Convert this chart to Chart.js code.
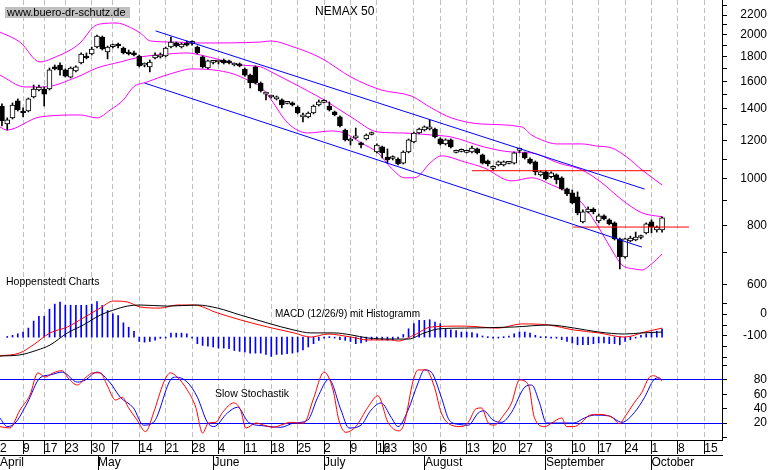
<!DOCTYPE html>
<html>
<head>
<meta charset="utf-8">
<script src="https://cdn.jsdelivr.net/npm/chart.js@4.4.1/dist/chart.umd.min.js"></script>
<style>
  html, body { margin: 0; padding: 0; background: #fff; }
</style>
</head>
<body>
<canvas id="chart" width="770" height="470"></canvas>
<script>
// texts
const TITLE = 'NEMAX 50';
const SITE = 'www.buero-dr-schutz.de';
const SOURCE = 'Hoppenstedt Charts';
const MACD_LABEL = 'MACD (12/26/9) mit Histogramm';
const STOCH_LABEL = 'Slow Stochastik';

// x = trading day slot (0 = 2 April)
const X_MIN = 0.63;
const X_MAX = 137.35;
const WEEK_TICKS = [[0.63,'2'],[5,'9'],[9,'17'],[13,'23'],[18,'30'],[22,'7'],[27,'14'],[32,'21'],[37,'28'],
  [42,'4'],[47,'11'],[52,'18'],[57,'25'],[62,'2'],[67,'9'],[72,'16'],[73.3,'23'],[79,'30'],[84,'6'],
  [89,'13'],[94,'20'],[99,'27'],[104,'3'],[109,'10'],[114,'17'],[119,'24'],[124,'1'],[129,'8'],[134,'15']];
const MONTH_TICKS = [[0.63,'April'],[19.2,'May'],[41.05,'June'],[62,'July'],[81.1,'August'],[104,'September'],[124,'October']];

// daily candles, first one on slot 1
const FIRST_DAY = 1;
const OPEN = [
  1420,1302,1341,1455,1386,1386,1483,1534,1541,1541,
  1714,1730,1689,1632,1681,1747,1798,1824,1886,1979,
  1841,1890,1904,1877,1841,1833,1806,1728,1714,1789,
  1798,1806,1886,1923,1886,1923,1920,1886,1798,1705,
  1752,1755,1772,1764,1730,1738,1697,1648,1714,1586,
  1504,1483,1469,1462,1438,1441,1413,1347,1347,1373,
  1427,1445,1420,1380,1347,1265,1200,1218,1189,1212,
  1238,1138,1166,1111,1103,1100,1079,1138,1194,1247,
  1265,1271,1271,1212,1183,1206,1136,1141,1136,1138,
  1155,1122,1090,1052,1069,1069,1077,1079,1147,1133,
  1100,1085,1019,1034,1010,1019,1005,953,935,917,
  813,853,865,817,837,821,809,749,687,742,
  745,754,771,813,782,782];
const HIGH = [
  1434,1341,1441,1469,1407,1476,1571,1571,1556,1705,
  1730,1747,1697,1714,1722,1833,1833,1886,1998,1989,
  1895,1913,1923,1886,1859,1850,1815,1747,1772,1833,
  1833,1886,1979,1932,1923,1942,1942,1895,1806,1772,
  1764,1764,1781,1772,1747,1747,1705,1656,1722,1594,
  1519,1497,1490,1469,1448,1448,1420,1373,1380,1427,
  1462,1462,1448,1386,1354,1271,1218,1277,1194,1241,
  1253,1183,1171,1155,1117,1106,1144,1212,1253,1277,
  1290,1328,1277,1218,1212,1212,1149,1155,1149,1171,
  1160,1127,1095,1064,1090,1090,1085,1138,1160,1138,
  1106,1090,1039,1039,1034,1024,1010,957,948,939,
  861,874,870,845,841,825,813,752,752,759,
  774,763,809,821,797,833];
const LOW = [
  1290,1265,1334,1386,1347,1380,1476,1527,1420,1534,
  1689,1648,1632,1625,1673,1738,1781,1815,1877,1859,
  1781,1877,1877,1824,1815,1806,1714,1714,1673,1781,
  1789,1798,1877,1886,1877,1895,1904,1824,1705,1697,
  1738,1738,1738,1738,1722,1714,1640,1549,1579,1519,
  1462,1476,1462,1407,1434,1420,1367,1315,1341,1367,
  1420,1441,1386,1354,1284,1200,1177,1212,1160,1206,
  1235,1133,1106,1079,1095,1069,1074,1133,1189,1241,
  1259,1265,1218,1177,1177,1160,1133,1138,1133,1133,
  1127,1074,1064,1044,1064,1064,1074,1074,1133,1100,
  1074,1019,1014,995,1005,976,948,922,887,841,
  809,849,845,809,821,801,745,648,683,738,
  742,749,767,771,774,774];
const CLOSE = [
  1322,1328,1427,1393,1373,1469,1541,1556,1504,1689,
  1697,1689,1640,1705,1714,1824,1789,1868,1989,1868,
  1886,1895,1895,1833,1824,1815,1722,1730,1755,1815,
  1815,1877,1932,1895,1913,1904,1923,1833,1714,1764,
  1755,1758,1747,1747,1733,1722,1648,1586,1586,1527,
  1508,1486,1483,1427,1441,1427,1373,1350,1373,1420,
  1448,1448,1393,1360,1290,1206,1203,1221,1177,1235,
  1241,1177,1133,1095,1106,1074,1138,1206,1247,1271,
  1284,1284,1223,1183,1206,1166,1138,1144,1138,1160,
  1133,1079,1074,1054,1085,1085,1079,1133,1149,1106,
  1079,1034,1034,1000,1029,995,953,930,891,849,
  853,865,853,837,825,805,749,687,749,752,
  756,756,805,793,793,829];

// Bollinger bands: [slot, value]
const BB_UPPER = [[0.6,2027],[4.4,1932],[8.2,1755],[10.7,1789],[15.8,1923],[18.3,2077],[19.6,2107],[22.8,2117],
  [24.7,2087],[27.2,2017],[29.1,1942],[33.5,1932],[38.6,1923],[50,1932],[52,1942],[55.7,1895],[61.4,1789],
  [67.1,1632],[72.8,1534],[78.5,1490],[82.3,1407],[86.1,1341],[91.8,1302],[99.4,1284],[101.3,1235],
  [103.2,1206],[106,1183],[110.8,1183],[113.6,1171],[116.5,1160],[119.3,1111],[122.2,1044],[126,971]];
const BB_MID = [[0.6,1648],[5.4,1556],[8.8,1556],[15.2,1632],[19,1705],[23.4,1755],[27.2,1798],[30.4,1815],
  [36.1,1833],[38.6,1815],[42.4,1772],[46.2,1730],[50,1714],[52,1673],[55.7,1594],[62,1462],[67.1,1347],
  [72.2,1253],[77.2,1247],[82.3,1235],[86.1,1223],[92.3,1166],[97.5,1138],[101.3,1133],[106.4,1079],
  [110.8,1044],[114.6,981],[118.4,904],[122.2,849],[126,833]];
const BB_LOWER = [[0.6,1284],[1.9,1265],[8.2,1347],[15.8,1360],[19,1341],[21.5,1393],[24,1462],[25.9,1556],
  [28.5,1594],[31,1632],[34.8,1681],[36.7,1697],[41.1,1689],[44.9,1656],[47.5,1609],[50,1556],[52,1462],
  [55.1,1309],[58.9,1247],[63.3,1259],[65.8,1247],[69,1189],[72.2,1133],[74.7,1054],[77.2,1005],[79.1,1005],
  [82.3,1085],[84.2,1117],[88.6,1085],[92.3,1054],[97.5,990],[101.3,1005],[105.1,971],[108.3,935],
  [110.8,891],[112.7,833],[114.6,771],[116.5,710],[118.4,661],[120.8,648],[122.2,645],[124,664],[126,696]];

// trend channel and horizontal marks
const TREND_UPPER = [[30.1,2038],[122.7,952]];
const TREND_LOWER = [[28,1586],[122.2,720]];
const LEVEL_1040 = [[90,1040],[123.9,1040]];
const LEVEL_793 = [[109.2,793],[131.1,793]];

// MACD panel
const MACD_LINE = [[0.6,-191],[4.4,-186],[7.7,-164],[10.1,-141],[13.4,-86],[16.4,-50],[19.6,-5],[22.1,18],
  [24.7,36],[27.2,41],[32.3,36],[38,41],[41.8,27],[46.2,-5],[51.3,-41],[56.3,-73],[59.5,-86],[63.9,-86],
  [67.1,-95],[70.3,-109],[74.7,-114],[77.9,-114],[81,-86],[83.6,-68],[88.6,-64],[98,-59],[104.5,-50],
  [109.4,-64],[114,-82],[118.9,-91],[122.2,-86],[126,-82]];
const MACD_SIGNAL = [[0.6,-191],[4.4,-177],[6.9,-141],[10.1,-86],[13.4,-59],[16.4,-18],[19.6,27],[22.1,59],
  [24.7,55],[27.2,32],[31,27],[34.2,41],[37.3,41],[41.8,5],[46.2,-27],[51.3,-59],[56.3,-86],[59.5,-105],
  [62.7,-91],[67.1,-105],[70.3,-118],[74.7,-118],[76,-123],[79.1,-95],[82.3,-59],[88.6,-55],[95,-64],
  [99.4,-45],[104.5,-50],[109.4,-73],[114,-86],[118.9,-105],[122.7,-82],[126,-64]];
const HIST_ZERO = -105;
const HIST_FIRST = 2;
const HIST = [
  3,8,15,23,41,73,95,95,
  127,150,159,145,145,144,145,145,150,162,
  144,121,106,98,65,45,26,-20,-23,-20,
  -14,-6,0,18,18,18,15,0,-30,-38,
  -41,-45,-50,-50,-53,-61,-65,-68,-73,-73,
  -73,-79,-88,-79,-79,-76,-73,-68,-58,-45,
  -30,-15,0,2,0,-12,-15,-20,-30,-27,
  -20,-12,-10,-12,-14,-12,-6,12,38,61,
  76,76,79,68,61,38,33,30,23,23,
  20,15,5,2,0,0,2,5,15,23,
  23,18,8,2,2,0,-5,-12,-20,-27,
  -35,-35,-35,-30,-27,-27,-30,-30,-35,-20,
  -12,-3,8,15,23,27,38];

// Slow stochastic
const STOCH_K = [[0.6,15],[2.5,13],[4.4,38],[6.3,59],[7.8,90],[9.2,84],[10.7,90],[12.4,93],[13.5,83],[15.3,73],
  [16.8,83],[18.3,90],[19.6,90],[20.9,73],[22.5,52],[23.8,56],[24.9,42],[26.6,24],[28.2,8],[29.7,34],
  [31.6,76],[32.9,90],[34.2,84],[36.1,66],[37.7,42],[39,6],[40.1,20],[41.5,21],[42.8,35],[44.9,48],
  [46.2,38],[47.2,13],[49.1,20],[50.6,17],[52.3,14],[53.8,17],[55.7,21],[57,20],[58.2,20],[59.9,52],
  [62,91],[63.7,66],[64.8,24],[66.1,7],[68,15],[70.3,42],[72.2,58],[74.1,21],[76.2,9],[77.2,20],
  [78.9,80],[79.8,94],[81.3,94],[82.9,70],[84.2,34],[86.1,17],[88,15],[89.3,21],[90.8,40],[91.8,41],
  [93.1,20],[94.2,17],[96,31],[97.5,48],[99,80],[100.7,73],[101.8,28],[103.8,15],[105.1,20],[107,27],
  [107.9,15],[109.3,15],[110.8,21],[112.3,31],[114,32],[116.5,28],[118,19],[118.9,28],[120.8,49],
  [122.2,63],[123.5,83],[124.4,86],[126,79]];
const STOCH_D = [[0.6,27],[2,15],[3.5,20],[5.8,48],[8.2,83],[10.1,87],[12.4,91],[15.3,77],[16.8,80],[19,91],
  [21.5,76],[23.4,56],[25.9,41],[27.8,17],[29.7,21],[32.9,80],[33.9,84],[36.1,77],[38,56],[39.9,21],
  [41.1,15],[43.7,34],[45.6,42],[47.7,21],[50.6,16],[53.8,14],[56.3,20],[58.9,24],[60.8,56],[62.9,81],
  [65.2,38],[66.7,13],[69,17],[70.9,38],[72.8,48],[74.7,28],[76,15],[77.9,38],[79.8,76],[81,94],
  [82.3,91],[84.2,56],[85.7,24],[87.6,18],[89.3,17],[91.2,34],[92.2,37],[94,24],[95.6,21],[97.5,35],
  [100,70],[101.3,73],[102.8,48],[104.1,20],[106.4,20],[109.3,20],[111.3,27],[113.2,31],[115.9,30],
  [118.4,21],[120.8,35],[122.7,56],[124.4,80],[125.4,83],[126,80]];

// axis ticks
const PRICE_TICKS = [600,700,800,900,1000,1100,1200,1300,1400,1500,1600,1700,1800,1900,2000,2100,2200,2300];
const PRICE_LABELS = [600,800,1000,1200,1400,1600,1800,2000,2200];
const MACD_TICKS = [50,0,-50,-100,-150,-200];
const MACD_LABELS = [0,-100];
const STOCH_TICKS = [0,20,40,60,80,100];
const STOCH_LABELS = [20,40,60,80];
const STOCH_LINES = [20,80];

const FONT = '"Liberation Sans", Arial, sans-serif';
const GRID_GRAY = '#c0c0c0';
const AXIS_W = 45;
const TICK_LEN = 5;

Chart.defaults.font.family = FONT;
Chart.defaults.font.size = 12;
Chart.defaults.color = '#000';

const pts = arr => arr.map(p => ({ x: p[0], y: p[1] }));

// padding so that right axis labels end at the canvas edge
function farPad(labels) {
  const m = document.createElement('canvas').getContext('2d');
  m.font = '12px ' + FONT;
  const w = Math.max(...labels.map(t => m.measureText(String(t)).width));
  return AXIS_W - TICK_LEN - w;
}

const candleX = OPEN.map((_, k) => k + FIRST_DAY);
const wickData = candleX.map((x, k) => ({ x, y: [LOW[k], HIGH[k]] }));
const bodyData = candleX.map((x, k) => ({ x, y: [Math.min(OPEN[k], CLOSE[k]), Math.max(OPEN[k], CLOSE[k])] }));
const bodyFill = candleX.map((x, k) => CLOSE[k] >= OPEN[k] ? '#ffffff' : '#000000');
const histData = HIST.map((h, k) => ({ x: k + HIST_FIRST, y: [HIST_ZERO, HIST_ZERO + h] }));

const line = (data, color, axis, width, order, smooth) => ({
  type: 'line', data: pts(data), yAxisID: axis, borderColor: color, borderWidth: width,
  pointRadius: 0, fill: false, order: order,
  cubicInterpolationMode: smooth ? 'monotone' : 'default', tension: 0
});

const rightAxis = (extra) => Object.assign({
  position: 'right', stack: 'panels', bounds: 'data',
  border: { color: '#000', width: 1 },
  grid: { drawOnChartArea: false, tickLength: TICK_LEN, tickColor: '#000' },
  afterFit: s => { s.width = AXIS_W; s.paddingTop = 0; s.paddingBottom = 0; }
}, extra);

const textPlugin = {
  id: 'texts',
  afterDraw(chart) {
    const ctx = chart.ctx;
    ctx.save();
    ctx.fillStyle = '#c0c0c0';
    ctx.fillRect(5, 7, 125, 11);
    ctx.fillStyle = '#000';
    ctx.textBaseline = 'middle';
    ctx.textAlign = 'left';
    ctx.font = '11px ' + FONT;
    ctx.fillText(SITE, 7, 12.5);
    ctx.font = '12px ' + FONT;
    ctx.fillText(TITLE, 315, 11.5);
    ctx.font = '10.5px ' + FONT;
    ctx.fillText(SOURCE, 6, 282.5);
    ctx.fillText(STOCH_LABEL, 215, 394.5);
    ctx.font = '10px ' + FONT;
    ctx.fillText(MACD_LABEL, 275, 314.5);
    ctx.restore();
  }
};

new Chart(document.getElementById('chart'), {
  type: 'bar',
  data: {
    datasets: [
      line(TREND_UPPER, '#0000ff', 'y', 1, 0, false),
      line(TREND_LOWER, '#0000ff', 'y', 1, 0, false),
      line(LEVEL_1040, '#ff0000', 'y', 1, 0, false),
      line(LEVEL_793, '#ff0000', 'y', 1, 0, false),
      {
        type: 'bar', data: bodyData, yAxisID: 'y', order: 1, grouped: false,
        backgroundColor: bodyFill, borderColor: '#000', borderWidth: 1, borderSkipped: false,
        barThickness: 5, minBarLength: 2
      },
      {
        type: 'bar', data: wickData, yAxisID: 'y', order: 2, grouped: false,
        backgroundColor: '#000', borderWidth: 0, barThickness: 1
      },
      line(BB_UPPER, '#ff00ff', 'y', 1, 3, true),
      line(BB_MID, '#ff00ff', 'y', 1, 3, true),
      line(BB_LOWER, '#ff00ff', 'y', 1, 3, true),

      line(MACD_LINE, '#000000', 'yMacd', 1, 0, true),
      line(MACD_SIGNAL, '#ff0000', 'yMacd', 1, 0, true),
      {
        type: 'bar', data: histData, yAxisID: 'yMacd', order: 1, grouped: false,
        backgroundColor: '#0000ff', borderWidth: 0, barThickness: 1, minBarLength: 1
      },

      line(STOCH_K, '#ff0000', 'yStoch', 1, 0, true),
      line(STOCH_D, '#0000ff', 'yStoch', 1, 0, true)
    ]
  },
  options: {
    responsive: false,
    animation: false,
    events: [],
    layout: { padding: { left: 0, top: 0, right: 3, bottom: 0 }, autoPadding: false },
    plugins: { legend: { display: false }, tooltip: { enabled: false } },
    scales: {
      x: {
        type: 'linear', position: 'bottom', min: X_MIN, max: X_MAX, offset: false, bounds: 'data',
        afterBuildTicks: s => { s.ticks = WEEK_TICKS.map(t => ({ value: t[0] })); },
        afterFit: s => { s.height = 15; s.paddingLeft = 0; s.paddingRight = 0; },
        border: { display: true, color: '#000', width: 1, dash: [5, 3] },
        grid: {
          offset: false, drawOnChartArea: true, lineWidth: 1, tickLength: 14, tickBorderDash: [],
          color: c => (c.tick && (c.tick.value < 1 || c.tick.value === 73.3)) ? 'rgba(0,0,0,0)' : GRID_GRAY,
          tickColor: c => (c.tick && c.tick.value < 1) ? 'rgba(0,0,0,0)' : '#000'
        },
        ticks: {
          autoSkip: false, maxRotation: 0, minRotation: 0, align: 'start', padding: -13,
          callback: (v, i) => WEEK_TICKS[i][1]
        }
      },
      x2: {
        type: 'linear', position: 'bottom', min: X_MIN, max: X_MAX, offset: false, bounds: 'data',
        afterBuildTicks: s => { s.ticks = MONTH_TICKS.map(t => ({ value: t[0] })); },
        afterFit: s => { s.height = 15; s.paddingLeft = 0; s.paddingRight = 0; },
        border: { display: true, color: '#000', width: 1 },
        grid: {
          offset: false, drawOnChartArea: false, tickLength: 15,
          tickColor: c => (c.tick && c.tick.value < 1) ? 'rgba(0,0,0,0)' : '#000'
        },
        ticks: {
          autoSkip: false, maxRotation: 0, minRotation: 0, align: 'start', padding: -15,
          callback: (v, i) => MONTH_TICKS[i][1]
        }
      },
      y: rightAxis({
        type: 'logarithmic', stackWeight: 296, min: 569, max: 2365,
        afterBuildTicks: s => { s.ticks = PRICE_TICKS.map(v => ({ value: v })); },
        ticks: {
          autoSkip: false, crossAlign: 'far', padding: farPad(PRICE_LABELS),
          callback: v => PRICE_LABELS.includes(v) ? String(v) : ''
        }
      }),
      yMacd: rightAxis({
        type: 'linear', stackWeight: 69, min: -232, max: 82,
        afterBuildTicks: s => { s.ticks = MACD_TICKS.map(v => ({ value: v })); },
        ticks: {
          autoSkip: false, crossAlign: 'far', padding: farPad(MACD_LABELS),
          callback: v => MACD_LABELS.includes(v) ? String(v) : ''
        }
      }),
      yStoch: rightAxis({
        type: 'linear', stackWeight: 75, min: -3.7, max: 100.9,
        afterBuildTicks: s => { s.ticks = STOCH_TICKS.map(v => ({ value: v })); },
        grid: {
          drawOnChartArea: true, tickLength: TICK_LEN, tickColor: '#000', lineWidth: 1,
          color: c => (c.tick && STOCH_LINES.includes(c.tick.value)) ? '#0000ff' : 'rgba(0,0,0,0)'
        },
        ticks: {
          autoSkip: false, crossAlign: 'far', padding: farPad(STOCH_LABELS),
          callback: v => STOCH_LABELS.includes(v) ? String(v) : ''
        }
      })
    }
  },
  plugins: [textPlugin]
});
</script>
</body>
</html>
